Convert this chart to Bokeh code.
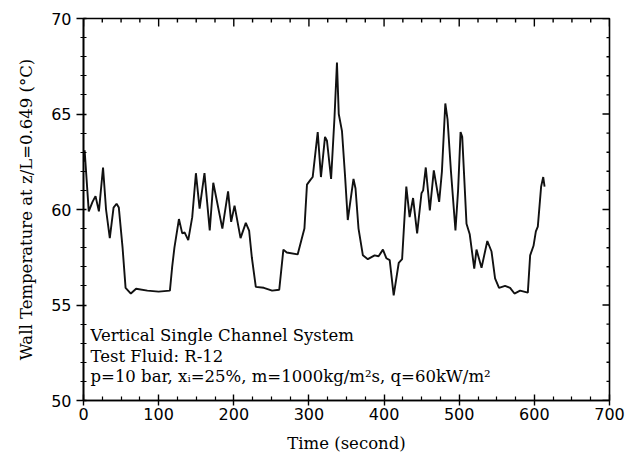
import math
from bokeh.plotting import figure
from bokeh.models import FixedTicker, Label
from bokeh.embed import file_html
from bokeh.resources import INLINE

# ---- data ----
time_s = [0, 1.5, 7, 12, 16, 20.5, 26, 30, 35, 40, 44, 47, 52, 56, 63, 70, 85, 100, 115,
          118, 121, 127, 131.4, 134.5, 139.4, 144.7, 149.6, 154.5, 161, 168, 172.7, 184.8,
          192.4, 196.5, 201, 209, 216, 220.4, 224, 229.3, 240, 251, 260.5, 266, 270.5, 285,
          290, 294, 297.4, 302, 305, 311.7, 316, 321.4, 324, 329.5, 334, 337.3, 339.7, 344,
          348, 351.7, 359.3, 362, 366, 371.8, 378.4, 387.4, 392.7, 398.5, 403, 407.5, 412.8,
          419.5, 424, 429.6, 434, 438.6, 444, 449.8, 452, 455.5, 460.9, 466.2, 473.3, 477,
          481.5, 484.5, 489, 495, 498.5, 501.8, 504, 509.7, 514, 520, 523, 529.7, 537.4, 543,
          547.7, 553, 561, 567.7, 573.5, 581, 591.3, 594.4, 598.9, 602, 604.6, 609, 611.8,
          613.6]
wall_temp = [62.5, 63.1, 59.9, 60.4, 60.7, 59.9, 62.2, 60.0, 58.5, 60.1, 60.3, 60.1, 58.0,
             55.9, 55.6, 55.85, 55.75, 55.7, 55.75,
             57.0, 58.0, 59.5, 58.75, 58.8, 58.4, 59.6, 61.9, 60.05, 61.9, 58.9, 61.4, 59.0,
             60.95, 59.35, 60.2, 58.5, 59.3, 58.9, 57.5, 55.95, 55.9, 55.75, 55.8, 57.9, 57.75,
             57.65, 58.4, 59.0, 61.3, 61.55, 61.7, 64.05, 61.7, 63.8, 63.6, 61.6, 64.8, 67.7,
             65.0, 64.1, 61.8, 59.45, 61.6, 61.1, 59.0, 57.6, 57.4, 57.6, 57.55, 57.9, 57.45,
             57.35, 55.5, 57.2, 57.4, 61.2, 59.6, 60.6, 58.75, 60.85, 61.0, 62.2, 59.95, 62.05,
             60.4, 62.0, 65.55, 64.7, 62.0, 58.9, 61.0, 64.05, 63.8, 59.25, 58.7, 56.9, 57.9,
             56.95, 58.35, 57.8, 56.4, 55.9, 56.0, 55.9, 55.6, 55.75, 55.65, 57.6, 58.1, 58.85,
             59.1, 61.2, 61.7, 61.2]

x_major = [0, 100, 200, 300, 400, 500, 600, 700]
x_minor = [25, 50, 75, 125, 150, 175, 225, 250, 275, 325, 350, 375, 425, 450, 475,
           525, 550, 575, 625, 650, 675]
y_major = [50, 55, 60, 65, 70]
y_minor = [51, 52, 53, 54, 56, 57, 58, 59, 61, 62, 63, 64, 66, 67, 68, 69]

x_title = "Time (second)"
y_title = "Wall Temperature at z/L=0.649 (°C)"
notes = ["Vertical Single Channel System",
         "Test Fluid: R-12",
         "p=10 bar, x\u1d62=25%, m=1000kg/m\u00b2s, q=60kW/m\u00b2"]

SERIF = "DejaVu Serif"
SANS = "DejaVu Sans"
X0, X1 = 0, 700
Y0, Y1 = 50, 70

p = figure(width=639, height=458, x_range=(X0, X1), y_range=(Y0, Y1),
           output_backend="svg", toolbar_location=None,
           min_border_left=83, min_border_right=30, min_border_top=18, min_border_bottom=58,
           background_fill_color="white", border_fill_color="white")
p.grid.visible = False
p.outline_line_color = "black"
p.outline_line_width = 1.6

xt = FixedTicker(ticks=x_major, minor_ticks=x_minor)
yt = FixedTicker(ticks=y_major, minor_ticks=y_minor)

for ax in (p.xaxis[0], p.yaxis[0]):
    ax.axis_line_color = "black"
    ax.axis_line_width = 1.6
    ax.major_tick_line_color = "black"
    ax.major_tick_line_width = 1.4
    ax.minor_tick_line_color = "black"
    ax.minor_tick_line_width = 1.2
    ax.major_label_text_font = SANS
    ax.major_label_text_font_size = "16px"
    ax.major_label_text_color = "black"
    ax.axis_label_text_font = SERIF
    ax.axis_label_text_font_size = "16.5px"
    ax.axis_label_text_font_style = "normal"
    ax.axis_label_text_color = "black"

xa = p.xaxis[0]
xa.ticker = xt
xa.axis_label = x_title
xa.major_tick_in = 6
xa.major_tick_out = 5
xa.minor_tick_in = 4
xa.minor_tick_out = 0
xa.major_label_standoff = 2
xa.axis_label_standoff = 11

ya = p.yaxis[0]
ya.ticker = yt
ya.axis_label = y_title
ya.major_tick_in = 3
ya.major_tick_out = 7
ya.minor_tick_in = 3
ya.minor_tick_out = 3
ya.major_label_standoff = 5
ya.axis_label_standoff = 12

# inward tick marks on the top and right frame edges (clipped to the frame)
kw = dict(marker="dash", line_color="black", line_width=1.4, fill_color=None)
p.scatter(x_major, [Y1] * len(x_major), size=16, angle=math.pi / 2, **kw)
p.scatter(x_minor, [Y1] * len(x_minor), size=8, angle=math.pi / 2, **kw)
p.scatter([X1] * len(y_major), y_major, size=14, angle=0, **kw)
p.scatter([X1] * len(y_minor), y_minor, size=6, angle=0, **kw)

p.line(time_s, wall_temp, line_color="#111111", line_width=1.9)

note_y = [53.4, 52.32, 51.24]
for txt, yy in zip(notes, note_y):
    p.add_layout(Label(x=9.3, y=yy, text=txt, text_font=SERIF, text_font_size="16.5px",
                       text_color="black", text_baseline="alphabetic", text_align="left"))

open("out.html", "w").write(file_html(p, INLINE))
